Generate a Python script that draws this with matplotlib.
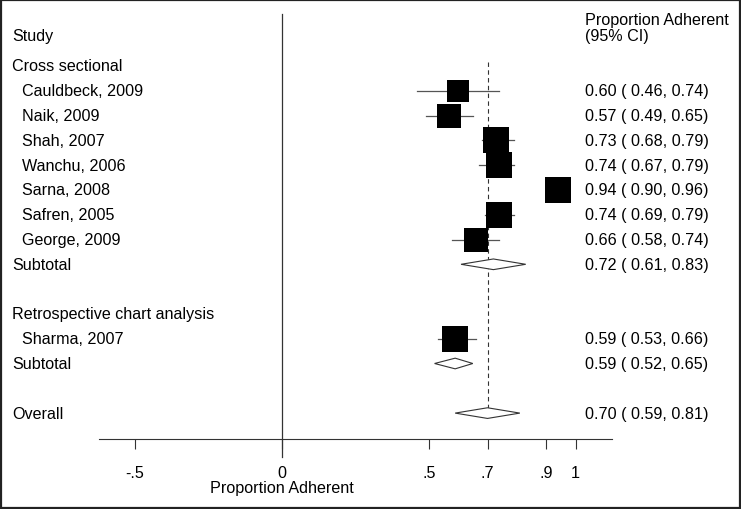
import matplotlib
matplotlib.use("Agg")
import numpy as np
import matplotlib.pyplot as plt
from matplotlib.patches import Polygon, Rectangle
from matplotlib.transforms import blended_transform_factory

plt.rcParams['font.family'] = ['Liberation Sans', 'DejaVu Sans']

# ---------------- data ----------------
group_names = ["Cross sectional", "Retrospective chart analysis"]
studies = ["Cauldbeck, 2009", "Naik, 2009", "Shah, 2007", "Wanchu, 2006",
           "Sarna, 2008", "Safren, 2005", "George, 2009", "Sharma, 2007"]
study_group = [0, 0, 0, 0, 0, 0, 0, 1]
est = [0.60, 0.57, 0.73, 0.74, 0.94, 0.74, 0.66, 0.59]
lo = [0.46, 0.49, 0.68, 0.67, 0.90, 0.69, 0.58, 0.53]
hi = [0.74, 0.65, 0.79, 0.79, 0.96, 0.79, 0.74, 0.66]
weights = [10.4, 12.4, 13.5, 13.5, 14.6, 13.5, 12.4, 14.6]

sub_est = [0.72, 0.59]
sub_lo = [0.61, 0.52]
sub_hi = [0.83, 0.65]

overall_est = 0.70
overall_lo = 0.59
overall_hi = 0.81

xticks = [-0.5, 0, 0.5, 0.7, 0.9, 1]
xticklabels = ["-.5", "0", ".5", ".7", ".9", "1"]

# ---------------- figure ----------------
W, H = 741, 510
fig = plt.figure(figsize=(W / 100, H / 100), dpi=100)
px_per_unit = 294.0
x0_px = 281.7
ax_left_px, ax_right_px = 99, 612
row_h = 24.8
row1_px = 66.9
axis_px = 440

def px_to_row(p):
    return 1 + (p - row1_px) / row_h

ax = fig.add_axes([ax_left_px / W, (H - axis_px) / H,
                   (ax_right_px - ax_left_px) / W, axis_px / H])
ax.set_xlim((ax_left_px - x0_px) / px_per_unit, (ax_right_px - x0_px) / px_per_unit)
ax.set_ylim(px_to_row(axis_px), px_to_row(0))
for s in ['top', 'left', 'right']:
    ax.spines[s].set_visible(False)
ax.spines['bottom'].set_linewidth(0.8)
ax.spines['bottom'].set_color('#333333')
ax.set_yticks([])
ax.set_xticks(xticks)
ax.set_xticklabels(xticklabels, fontsize=11.6)
ax.tick_params(axis='x', direction='out', length=7, width=0.8, color='#333333', pad=12)
ax.patch.set_visible(False)

fs = 11.6
tl = blended_transform_factory(fig.transFigure, ax.transData)

# build rows
r = 1
row_of_study = {}
row_of_sub = {}
label_rows = []
for g, gname in enumerate(group_names):
    label_rows.append((r, gname, 12))
    r += 1
    for i, sg in enumerate(study_group):
        if sg == g:
            row_of_study[i] = r
            label_rows.append((r, studies[i], 22))
            r += 1
    row_of_sub[g] = r
    label_rows.append((r, "Subtotal", 12))
    r += 2
overall_row = r
label_rows.append((r, "Overall", 12))

# zero line and dashed overall line
ax.plot([0, 0], [px_to_row(15), px_to_row(458)], color='#333333', lw=0.9, clip_on=False)
ax.plot([overall_est, overall_est], [0.84, overall_row], color='#333333', lw=0.8,
        linestyle=(0, (4, 3)), clip_on=False)

# studies
wmax = max(weights)
for i in range(len(studies)):
    y = row_of_study[i]
    ax.plot([lo[i], hi[i]], [y, y], color='#555555', lw=0.9, zorder=2)
    side_px = 26 * np.sqrt(weights[i] / wmax)
    ax.plot([est[i]], [y], marker='s', markersize=side_px * 0.72, color='black',
            markeredgewidth=0, zorder=3, clip_on=False)
    ax.text(585 / W, y, f"{est[i]:.2f} ( {lo[i]:.2f}, {hi[i]:.2f})", transform=tl,
            fontsize=fs, va='center', ha='left')

dh = 0.215
def diamond(e, l, h, y):
    poly = Polygon([[l, y], [e, y - dh], [h, y], [e, y + dh]], closed=True,
                   facecolor='white', edgecolor='#333333', lw=0.8, zorder=4)
    ax.add_patch(poly)
    ax.text(585 / W, y, f"{e:.2f} ( {l:.2f}, {h:.2f})", transform=tl,
            fontsize=fs, va='center', ha='left')

for g in range(len(group_names)):
    diamond(sub_est[g], sub_lo[g], sub_hi[g], row_of_sub[g])
diamond(overall_est, overall_lo, overall_hi, overall_row)

for y, txt, xp in label_rows:
    ax.text(xp / W, y, txt, transform=tl, fontsize=fs, va='center', ha='left')

# headers
ax.text(12 / W, px_to_row(36), "Study", transform=tl, fontsize=fs, va='center', ha='left')
ax.text(585 / W, px_to_row(21), "Proportion Adherent", transform=tl, fontsize=fs,
        va='center', ha='left')
ax.text(585 / W, px_to_row(36), "(95% CI)", transform=tl, fontsize=fs,
        va='center', ha='left')

# x label centred on 0
fig.text(x0_px / W, 1 - 489 / H, "Proportion Adherent", fontsize=fs, ha='center', va='center')

# outer border
fig.patches.append(Rectangle((1 / W, 1 / H), (W - 2) / W, (H - 2) / H, transform=fig.transFigure,
                             fill=False, edgecolor='#222222', lw=1.6))

fig.savefig("out.png", dpi=100)
